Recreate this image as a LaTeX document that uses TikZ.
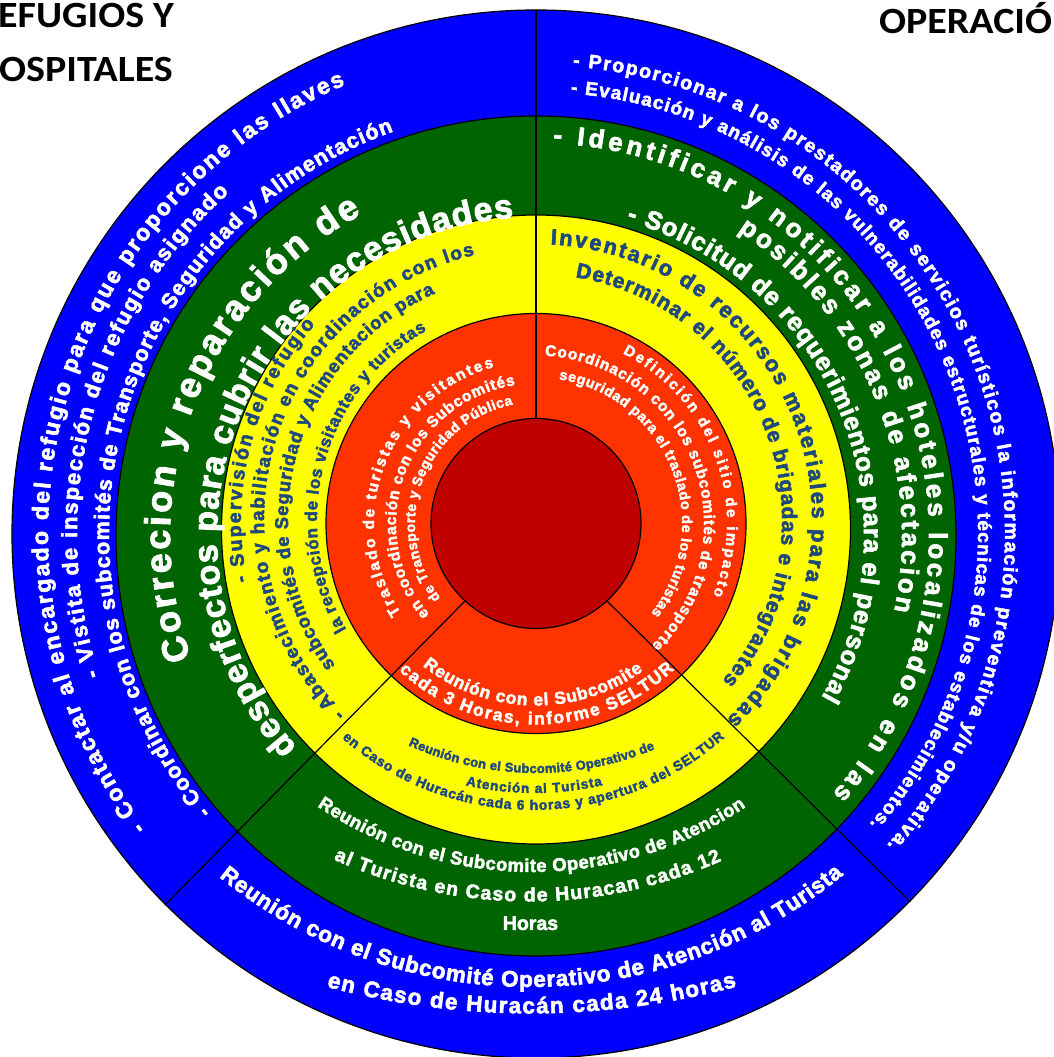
\documentclass[tikz,border=0pt]{standalone}
\usepackage{fontspec}
\setmainfont{Liberation Sans}
\newfontfamily\rsHeavy{Liberation Sans}[BoldFeatures={FakeBold=2.5}]
\newfontfamily\rsTitleFont{Carlito}[BoldFeatures={FakeStretch=1.08}]
\usetikzlibrary{calc,decorations.text}
\definecolor{ringBlue}{RGB}{0,0,255}
\definecolor{ringGreen}{RGB}{0,100,0}
\definecolor{ringYellow}{RGB}{255,255,0}
\definecolor{ringRed}{RGB}{255,51,0}
\definecolor{coreRed}{RGB}{190,0,0}
\definecolor{txtBlue}{RGB}{31,73,125}
% #1 centre, #2 radius, #3 start angle, #4 end angle, #5 font size, #6 colour, #7 text
\newcommand{\rsArc}[7]{{\rsHeavy\fontsize{#5}{#5}\selectfont\bfseries
  \path[decorate, decoration={text along path, text align=fit to path, text color=#6, text={#7}}]
    ($(#1)+(#3:#2)$) arc[start angle=#3, end angle=#4, radius=#2];}}
\tikzset{
  ring/.style={draw=black, line width=1.2pt},
  divider/.style={draw=black, line width=1.2pt},
  titletext/.style={anchor=base west, inner sep=0pt, font=\rsTitleFont\bfseries\fontsize{37}{37}\selectfont},
}
\begin{document}
\begin{tikzpicture}[x=1pt, y=1pt]
\useasboundingbox (0,0) rectangle (1053,1057);
% centres
\coordinate (cR) at (536,533.5);
\coordinate (cY) at (536,527.5);
\coordinate (cG) at (536,521);
\coordinate (cB) at (536,523);
\coordinate (cYt) at (536,537);
% rings
\fill[ringBlue, ring] (cB) circle[radius=524];
\fill[ringGreen, ring] (cG) circle[radius=420];
\fill[ringYellow, ring] (cY) circle[radius=314.5];
\fill[ringRed, ring] (cR) circle[radius=210];
\fill[coreRed, ring] (cR) circle[radius=105];
% dividers
\coordinate (vTop) at ($(cB)+(90:524)$);
\coordinate (vBot) at ($(cR)+(90:105)$);
\coordinate (lIn) at ($(cR)+(227.5:105)$);
\coordinate (lOut) at ($(cB)+(225:525)$);
\coordinate (rIn) at ($(cR)+(-47.5:105)$);
\coordinate (rOut) at ($(cB)+(-44.5:525)$);
\draw[divider] (vBot) -- (vTop);
\draw[divider] (lIn) -- (lOut);
\draw[divider] (rIn) -- (rOut);
% titles
\node[titletext] (t1) at (-2,1029) {EFUGIOS Y};
\node[titletext] (t2) at (-1,975) {OSPITALES};
\node[titletext] (t3) at (879,1023) {OPERACIÓ};
% blue ring, left
\rsArc{cB}{488}{217}{113}{23}{white}{- Contactar al encargado del refugio para que proporcione las llaves}
\rsArc{cB}{459}{198}{132}{22}{white}{- Vistita de inspección del refugio asignado}
\rsArc{cB}{427}{220.5}{109.5}{21.5}{white}{- Coordinar con los subcomités de Transporte, Seguridad y Alimentación}
% blue ring, right
\rsArc{cB}{469}{85.5}{-41.5}{19.5}{white}{- Proporcionar a los prestadores de servicios turísticos la información preventiva y/u operativa.}
\rsArc{cB}{442}{85.5}{-41}{19}{white}{- Evaluación y análisis de las vulnerabilidades estructurales y técnicas de los establecimientos.}
% blue ring, bottom
\coordinate (cYb) at (530,564);
\coordinate (cZb) at (531,843.6);
\rsArc{cYb}{494}{-129}{-50.7}{22.5}{white}{Reunión con el Subcomité Operativo de Atención al Turista}
\rsArc{cZb}{800}{-104.8}{-75.1}{22.5}{white}{en Caso de Huracán cada 24 horas}
% green ring, right
\rsArc{cG}{393}{87.5}{-41}{26}{white}{- Identificar y notificar a los hoteles localizados en las}
\rsArc{cG}{366}{56.5}{-11.8}{26}{white}{posibles zonas de afectacion}
\rsArc{cG}{328}{74}{-29.5}{25.5}{white}{- Solicitud de requerimientos para el personal}
% green ring, left
\rsArc{cG}{366}{199.5}{118.5}{36}{white}{Correcion y reparación de}
\rsArc{cG}{319}{221.5}{94}{34}{white}{desperfectos para cubrir las necesidades}
% green ring, bottom
\coordinate (cV) at (532,569);
\coordinate (cW) at (529,630.5);
\rsArc{cV}{384}{-124}{-56.2}{18.5}{white}{Reunión con el Subcomite Operativo de Atencion}
\rsArc{cW}{475}{-114.3}{-66.1}{19.5}{white}{al Turista en Caso de Huracan cada 12}
\node[font=\rsHeavy\bfseries\fontsize{19.5}{19.5}\selectfont, text=white, inner sep=0pt] (horas) at (530.5,133.7) {Horas};
% yellow ring, left
\rsArc{cYt}{295}{192}{138.5}{19.5}{txtBlue}{- Supervisión del refugio}
\rsArc{cYt}{272}{225.5}{103}{19}{txtBlue}{- Abastecimiento y habilitación en coordinación con los}
\rsArc{cYt}{248}{216}{114}{18.5}{txtBlue}{subcomités de Seguridad y Alimentacion para}
\rsArc{cYt}{219}{210}{120}{17}{txtBlue}{la recepción de los visitantes y turistas}
% yellow ring, right
\rsArc{cYt}{276}{87}{-46.3}{22}{txtBlue}{Inventario de recursos materiales para las brigadas}
\rsArc{cYt}{246}{80.8}{-40.8}{21}{txtBlue}{Determinar el número de brigadas e integrantes}
% yellow ring, bottom
\coordinate (cS) at (536,592);
\coordinate (cT) at (534,568);
\coordinate (cU) at (533,537);
\rsArc{cS}{308}{-114.5}{-67.3}{13}{txtBlue}{Reunión con el Subcomité Operativo de}
\rsArc{cT}{304}{-103}{-77}{13.5}{txtBlue}{Atención al Turista}
\rsArc{cU}{290}{-131.2}{-48.7}{14}{txtBlue}{en Caso de Huracán cada 6 horas y apertura del SELTUR}
% red ring, right
\rsArc{cR}{191}{63}{-22}{15}{white}{Definición del sitio de impacto}
\rsArc{cR}{168}{87}{-46.5}{15.5}{white}{Coordinación con los subcomités de transporte}
\rsArc{cR}{146}{81}{-38}{14.5}{white}{seguridad para el traslado de los turistas}
% red ring, left
\rsArc{cR}{162}{213.5}{105}{15.5}{white}{Traslado de turistas y visitantes}
\rsArc{cR}{140}{220.5}{98.5}{15.5}{white}{en coordinación con los Subcomités}
\rsArc{cR}{121}{218}{101}{14}{white}{de Transporte y Seguridad Pública}
% red ring, bottom
\rsArc{cR}{182}{-128.5}{-54}{17.5}{white}{Reunión con el Subcomite}
\rsArc{cR}{201}{-133}{-46.5}{17.5}{white}{cada 3 Horas, informe SELTUR}
\end{tikzpicture}
\end{document}
